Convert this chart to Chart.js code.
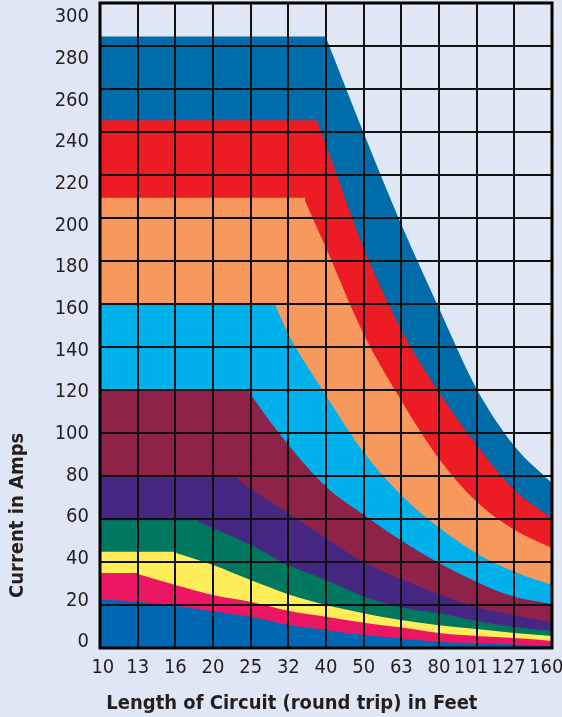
<!DOCTYPE html>
<html lang="en">
<head>
  <meta charset="UTF-8">
  <title>Current vs Circuit Length</title>
  <style>
    html, body {
      margin: 0;
      padding: 0;
      background: #e0e7f4;
    }
    #chartWrapper {
      position: relative;
      width: 562px;
      height: 717px;
    }
  </style>
</head>
<body>
  <div id="chartWrapper">
    <canvas id="ampChart"></canvas>
  </div>

  <script src="https://cdn.jsdelivr.net/npm/chart.js/dist/chart.umd.min.js"></script>
  <script>
    // circuit lengths (round trip, feet) – one grid column each
    const lengthsFt = [10, 13, 16, 20, 25, 32, 40, 50, 63, 80, 101, 127, 160];
    const ampTicks = [0, 20, 40, 60, 80, 100, 120, 140, 160, 180, 200, 220, 240, 260, 280, 300];

    // top edge of each band (amps) at every length, lowest band first
    const blueAmps      = [22.6, 21.5, 19.6, 17, 14.5, 10.7, 8.4, 6, 4.4, 2.8, 2.3, 1.6, 1];
    const pinkAmps      = [34.4, 34.4, 29.3, 24.7, 21.5, 17.3, 14.5, 11.8, 9.5, 7, 5.6, 4.6, 3.3];
    const yellowAmps    = [44.3, 44.3, 44.3, 38.6, 31.6, 25, 20, 16.2, 13, 10.6, 8.8, 7, 5.6];
    const greenAmps     = [59, 59, 59, 55.7, 48, 38.6, 31.6, 24, 19, 16.2, 12.6, 9.8, 8];
    const purpleAmps    = [79, 79, 79, 79, 74, 62.8, 51, 40, 32, 25, 19, 15.3, 11.8];
    const maroonAmps    = [120, 120, 120, 120, 118, 94.5, 75, 62, 50, 39.5, 30.7, 23.8, 20.5];
    const lightBlueAmps = [160, 160, 160, 160, 160, 146, 117.5, 91, 71, 56, 44, 35.5, 29.3];
    const orangeAmps    = [209, 209, 209, 209, 209, 209, 186, 146, 115, 88, 68, 55, 46.5];
    const redAmps       = [245, 245, 245, 245, 245, 245, 234, 186, 148, 119, 94.4, 73.5, 60.4];
    const darkBlueAmps  = [284, 284, 284, 284, 284, 284, 284, 239.5, 197, 158, 120.5, 94, 76.7];

    // where each flat top stops (position along the length columns)
    const bandKnees  = [0, 1, 2, 2.58, 3.63, 3.93, 4.64, 5.42, 5.76, 6];
    const bandAmps   = [blueAmps, pinkAmps, yellowAmps, greenAmps, purpleAmps,
                        maroonAmps, lightBlueAmps, orangeAmps, redAmps, darkBlueAmps];
    const bandColors = ['#0068b2', '#ec1665', '#ffee57', '#00775f', '#472784',
                        '#8e2249', '#00b1ec', '#f7985c', '#ed1c24', '#006daa'];

    const FONT = "'DejaVu Sans Condensed', 'DejaVu Sans', sans-serif";
    const TEXT = '#231f20';

    // each band = a flat block up to its knee, then a smooth falling curve
    function bandDatasets(amps, knee, color) {
      const sets = [];
      const curve = [{ x: knee, y: amps[0] }];
      amps.forEach((a, i) => { if (i > knee) curve.push({ x: i, y: a }); });
      sets.push({
        data: curve,
        backgroundColor: color,
        borderColor: 'transparent',
        borderWidth: 0,
        pointRadius: 0,
        cubicInterpolationMode: 'monotone',
        fill: 'origin'
      });
      if (knee > 0) {
        // block outline runs down its right side so it joins the curve cleanly
        sets.push({
          data: [{ x: 0, y: amps[0] }, { x: knee, y: amps[0] }, { x: knee, y: 0 }],
          backgroundColor: color,
          borderColor: color,
          borderWidth: 2,
          pointRadius: 0,
          tension: 0,
          fill: 'origin'
        });
      }
      return sets;
    }

    // heavy frame round the plot
    const frame = {
      id: 'frame',
      afterDraw(chart) {
        const { ctx, chartArea: a } = chart;
        ctx.save();
        ctx.strokeStyle = '#000';
        ctx.lineWidth = 3;
        ctx.strokeRect(a.left, a.top, a.right - a.left, a.bottom - a.top);
        ctx.restore();
      }
    };

    const gridOpts = { color: '#111', lineWidth: 2, drawTicks: false, z: 1 };

    new Chart(document.getElementById('ampChart'), {
      type: 'line',
      data: {
        datasets: bandAmps.flatMap((amps, i) => bandDatasets(amps, bandKnees[i], bandColors[i]))
      },
      options: {
        responsive: true,
        maintainAspectRatio: false,
        animation: false,
        layout: { autoPadding: false, padding: { top: 3, right: 10, left: 0, bottom: 0 } },
        plugins: { legend: { display: false }, tooltip: { enabled: false } },
        scales: {
          x: {
            type: 'linear',
            min: 0,
            max: 12,
            grid: gridOpts,
            border: { display: false },
            afterFit: s => {
              s.height = 69;
              s.paddingLeft = 0;
              s.paddingRight = 0;
            },
            ticks: {
              stepSize: 1,
              autoSkip: false,
              maxRotation: 0,
              padding: 8,
              color: TEXT,
              font: { family: FONT, size: 20 },
              // end labels sit a little inside the frame
              callback: v => v === 0 ? ' ' + lengthsFt[v] : v >= 10 ? lengthsFt[v] + '  ' : lengthsFt[v]
            },
            title: {
              display: true,
              align: 'start',
              text: ' Length of Circuit (round trip) in Feet',
              color: TEXT,
              font: { family: FONT, size: 20, weight: 'bold' },
              padding: { top: 0, bottom: 1 }
            }
          },
          y: {
            min: 0,
            max: 300,
            weight: 0,
            grid: gridOpts,
            border: { display: false },
            ticks: { display: false, stepSize: 20 },
            afterFit: s => {
              s.width = 0;
              s.paddingTop = 0;
              s.paddingBottom = 0;
            }
          },
          yLabels: {
            type: 'linear',
            position: 'left',
            weight: 1,
            min: -2.88,
            max: 306.72,
            grid: { display: false, drawTicks: false },
            border: { display: false },
            afterFit: s => {
              s.width = 100;
              s.paddingTop = 0;
              s.paddingBottom = 0;
            },
            afterBuildTicks: s => { s.ticks = ampTicks.map(v => ({ value: v })); },
            ticks: {
              padding: 11,
              color: TEXT,
              font: { family: FONT, size: 20 }
            },
            title: {
              display: true,
              align: 'start',
              text: '        Current in Amps',
              color: TEXT,
              font: { family: FONT, size: 20, weight: 'bold' },
              padding: { top: 6, bottom: 0 }
            }
          }
        }
      },
      plugins: [frame]
    });
  </script>
</body>
</html>
